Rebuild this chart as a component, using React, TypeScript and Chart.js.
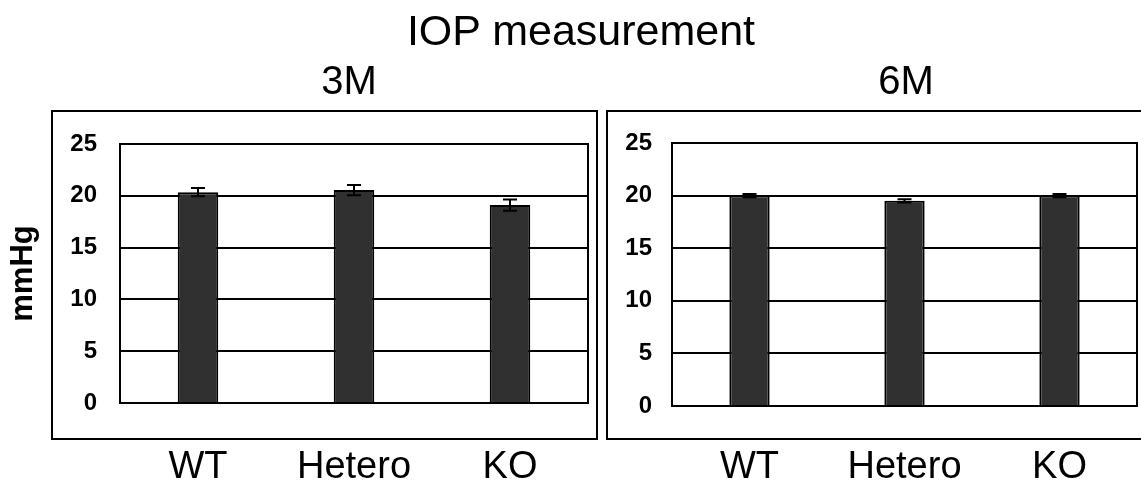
import React, { useEffect, useRef } from 'react';
import { Chart, registerables } from 'chart.js';

Chart.register(...registerables);

const categories = ['WT', 'Hetero', 'KO'];
const values3M = [20.35, 20.55, 19.1];
const errors3M = [0.4, 0.5, 0.55];
const values6M = [20.0, 19.5, 20.0];
const errors6M = [0.15, 0.15, 0.15];
const yTicks = [0, 5, 10, 15, 20, 25];
const mainTitle = 'IOP measurement';
const panelTitles = ['3M', '6M'];
const yAxisLabel = 'mmHg';

const FONT = "'Liberation Sans', Arial, Helvetica, sans-serif";

const panelPlugin = {
  id: 'panelBox',
  beforeDraw(chart: any, _args: any, opts: any) {
    const { ctx } = chart;
    ctx.save();
    ctx.strokeStyle = '#000000';
    ctx.lineWidth = 2;
    ctx.strokeRect(opts.left, opts.top, opts.right - opts.left, opts.bottom - opts.top);
    ctx.restore();
  },
  afterDatasetsDraw(chart: any, _args: any, opts: any) {
    const { ctx, chartArea } = chart;
    const yScale = chart.scales.y;
    const meta = chart.getDatasetMeta(0);
    const data = chart.data.datasets[0].data as number[];
    const errs: number[] = opts.errors || [];
    ctx.save();
    ctx.strokeStyle = '#000000';
    ctx.lineWidth = 2;
    meta.data.forEach((bar: any, i: number) => {
      const v = data[i];
      const e = errs[i] || 0;
      const yTop = yScale.getPixelForValue(v + e);
      const yBot = yScale.getPixelForValue(v - e);
      const x = bar.x;
      ctx.beginPath();
      ctx.moveTo(x, yTop);
      ctx.lineTo(x, yBot);
      ctx.moveTo(x - 7, yTop);
      ctx.lineTo(x + 7, yTop);
      ctx.moveTo(x - 7, yBot);
      ctx.lineTo(x + 7, yBot);
      ctx.stroke();
    });
    // plot frame
    ctx.strokeRect(chartArea.left, chartArea.top, chartArea.right - chartArea.left, chartArea.bottom - chartArea.top);
    ctx.restore();
  },
};

type PanelProps = {
  values: number[];
  errors: number[];
  width: number;
  height: number;
  yWidth: number;
  xHeight: number;
  padTop: number;
  padRight: number;
  tickPadY: number;
  tickPadX: number;
  box: { left: number; top: number; right: number; bottom: number };
  showYTitle: boolean;
};

function Panel(p: PanelProps) {
  const ref = useRef<HTMLCanvasElement | null>(null);
  useEffect(() => {
    if (!ref.current) return;
    const chart = new Chart(ref.current, {
      type: 'bar',
      data: {
        labels: categories,
        datasets: [
          {
            data: p.values,
            backgroundColor: '#303030',
            borderColor: '#000000',
            borderWidth: 2,
            categoryPercentage: 1,
            barPercentage: 0.26,
          },
        ],
      },
      options: {
        responsive: false,
        animation: false,
        layout: { padding: { top: p.padTop, right: p.padRight, left: 0, bottom: 0 } },
        plugins: {
          legend: { display: false },
          tooltip: { enabled: false },
          title: { display: false },
          panelBox: { ...p.box, errors: p.errors },
        } as any,
        scales: {
          x: {
            grid: { display: false, drawTicks: false },
            border: { display: true, color: '#000000', width: 2 },
            ticks: {
              color: '#000000',
              font: { family: FONT, size: 38 },
              padding: p.tickPadX,
            },
            afterFit: (scale: any) => {
              scale.height = p.xHeight;
            },
          },
          y: {
            min: 0,
            max: 25,
            afterBuildTicks: (scale: any) => {
              scale.ticks = yTicks.map((v) => ({ value: v }));
            },
            grid: { color: '#000000', lineWidth: 2, drawTicks: false },
            border: { display: true, color: '#000000', width: 2 },
            ticks: {
              color: '#000000',
              font: { family: FONT, size: 24, weight: 'bold' },
              padding: p.tickPadY,
            },
            title: {
              display: p.showYTitle,
              text: yAxisLabel,
              color: '#000000',
              font: { family: FONT, size: 31, weight: 'bold' },
              padding: { top: 5, bottom: 0 },
            },
            afterFit: (scale: any) => {
              scale.width = p.yWidth;
            },
          },
        },
      },
      plugins: [panelPlugin as any],
    });
    return () => chart.destroy();
  }, []);
  return <canvas ref={ref} width={p.width} height={p.height} style={{ display: 'block' }} />;
}

export default function App() {
  return (
    <div
      style={{
        position: 'absolute',
        left: 0,
        top: 0,
        width: 1141,
        height: 486,
        background: '#ffffff',
        overflow: 'hidden',
        fontFamily: FONT,
        color: '#000000',
      }}
    >
      <div style={{ position: 'absolute', left: 0, top: 50 }}>
        <Panel
          values={values3M}
          errors={errors3M}
          width={600}
          height={436}
          yWidth={120}
          xHeight={83}
          padTop={94}
          padRight={12}
          tickPadY={23}
          tickPadX={42}
          box={{ left: 52, top: 61, right: 597, bottom: 389 }}
          showYTitle={true}
        />
      </div>
      <div style={{ position: 'absolute', left: 600, top: 50 }}>
        <Panel
          values={values6M}
          errors={errors6M}
          width={541}
          height={436}
          yWidth={72}
          xHeight={80}
          padTop={93}
          padRight={4}
          tickPadY={20}
          tickPadX={39}
          box={{ left: 7, top: 61, right: 560, bottom: 389 }}
          showYTitle={false}
        />
      </div>
      <div
        style={{
          position: 'absolute',
          left: 381,
          width: 400,
          top: 9,
          textAlign: 'center',
          fontSize: 43,
          lineHeight: '43px',
          whiteSpace: 'nowrap',
        }}
      >
        {mainTitle}
      </div>
      <div
        style={{
          position: 'absolute',
          left: 249,
          width: 200,
          top: 60,
          textAlign: 'center',
          fontSize: 40,
          lineHeight: '40px',
        }}
      >
        {panelTitles[0]}
      </div>
      <div
        style={{
          position: 'absolute',
          left: 806,
          width: 200,
          top: 60,
          textAlign: 'center',
          fontSize: 40,
          lineHeight: '40px',
        }}
      >
        {panelTitles[1]}
      </div>
    </div>
  );
}
